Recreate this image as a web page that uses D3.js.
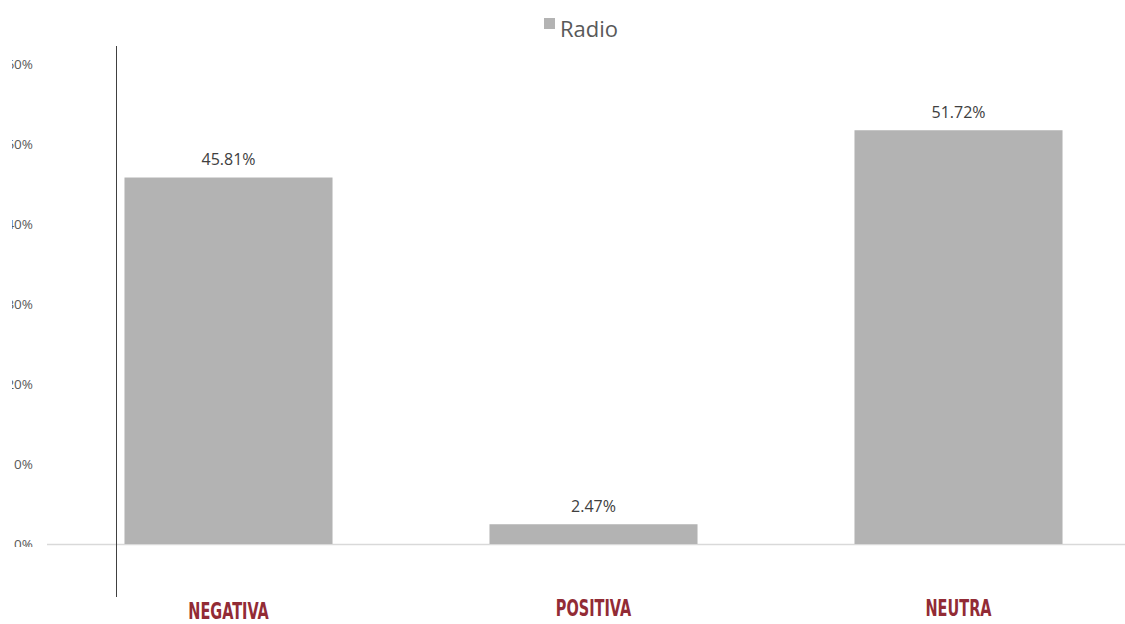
<!DOCTYPE html>
<html>
<head>
<meta charset="utf-8">
<script src="https://cdn.jsdelivr.net/npm/d3@7"></script>
<style>
  html, body { margin: 0; padding: 0; background: #ffffff; }
  svg { display: block; }
</style>
</head>
<body>
<script>
// ---- data ----
const categories = ["NEGATIVA", "POSITIVA", "NEUTRA"];
const radioValues = [45.81, 2.47, 51.72];
const seriesName = "Radio";
const yTicks = [0, 10, 20, 30, 40, 50, 60];

// ---- layout ----
const W = 1125, H = 624;
const svg = d3.select("body").append("svg").attr("width", W).attr("height", H);

const x = d3.scaleBand().domain(categories).range([46, 1141]).paddingInner(0.43).paddingOuter(0.215);
const y = d3.scaleLinear().domain([0, 60]).range([544, 64]);

const fontMain = "'Open Sans', 'Noto Sans', sans-serif";

// clip for y-axis labels (original is cut off on left and bottom)
svg.append("defs").append("clipPath").attr("id", "ylabclip")
  .append("rect").attr("x", 12).attr("y", 40).attr("width", 100).attr("height", 507);

// y tick labels
const clipG = svg.append("g").attr("clip-path", "url(#ylabclip)");
const yAxis = d3.axisLeft(y).tickValues(yTicks).tickFormat(d => d + "%").tickSize(0).tickPadding(0);
const yg = clipG.append("g").attr("transform", "translate(33,0)").call(yAxis);
yg.select(".domain").remove();
yg.selectAll("text")
  .attr("fill", "#595959")
  .style("font-family", fontMain)
  .style("font-size", "13.5px");

// baseline
svg.append("line")
  .attr("x1", 47).attr("x2", 1125)
  .attr("y1", y(0) + 0.5).attr("y2", y(0) + 0.5)
  .attr("stroke", "#d9d9d9").attr("stroke-width", 1.3);

// bars
svg.append("g").selectAll("rect").data(categories).join("rect")
  .attr("x", d => x(d))
  .attr("width", x.bandwidth())
  .attr("y", (d, i) => y(radioValues[i]))
  .attr("height", (d, i) => y(0) - y(radioValues[i]))
  .attr("fill", "#b3b3b3");

// value labels
svg.append("g").selectAll("text").data(categories).join("text")
  .attr("x", d => x(d) + x.bandwidth() / 2)
  .attr("y", (d, i) => y(radioValues[i]) - 12.5)
  .attr("text-anchor", "middle")
  .attr("fill", "#404040")
  .style("font-family", fontMain)
  .style("font-size", "16px")
  .text((d, i) => radioValues[i].toFixed(2) + "%");

// vertical axis line
svg.append("line")
  .attr("x1", 116.5).attr("x2", 116.5)
  .attr("y1", 46).attr("y2", 597)
  .attr("stroke", "#404040").attr("stroke-width", 1);

// category labels
svg.append("g").selectAll("text").data(categories).join("text")
  .attr("transform", (d, i) => {
    const cx = x(d) + x.bandwidth() / 2;
    const by = i === 0 ? 619 : 615.5;
    return `translate(${cx},${by}) scale(0.7,1)`;
  })
  .attr("text-anchor", "middle")
  .attr("fill", "#922b35")
  .style("font-family", "'Liberation Sans Narrow', 'DejaVu Sans Condensed', sans-serif")
  .style("font-weight", "bold")
  .style("font-size", "23px")
  .text(d => d);

// legend
const lg = svg.append("g");
lg.append("rect").attr("x", 544).attr("y", 18).attr("width", 11).attr("height", 11).attr("fill", "#b3b3b3");
lg.append("text").attr("x", 560).attr("y", 37)
  .attr("fill", "#595959")
  .style("font-family", fontMain)
  .style("font-size", "22px")
  .text(seriesName);
</script>
</body>
</html>
